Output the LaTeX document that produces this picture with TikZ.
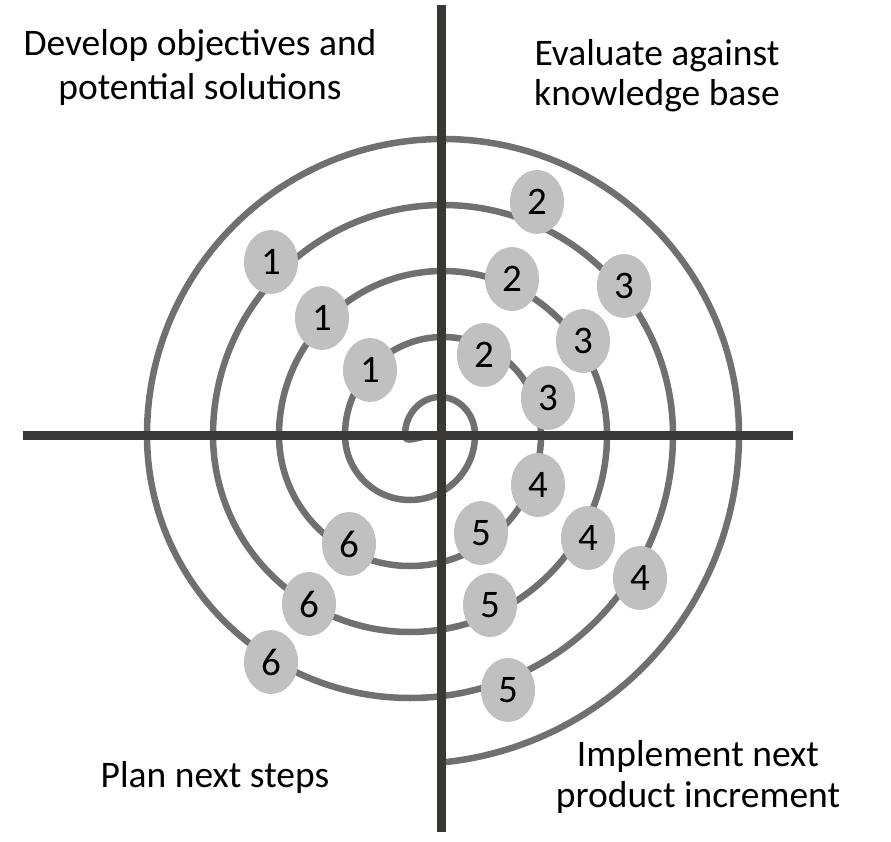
\documentclass[tikz,border=0pt]{standalone}
\usepackage{fontspec}
\setmainfont{Carlito}
\usetikzlibrary{shapes.geometric}
\definecolor{spiralgray}{RGB}{112,112,112}
\definecolor{axisdark}{RGB}{58,56,54}
\definecolor{bubblegray}{RGB}{192,192,192}
\tikzset{
  spiralline/.style={draw=spiralgray, line width=6.5pt},
  axisline/.style={draw=axisdark, line width=9pt},
  bubble/.style={ellipse, fill=bubblegray, draw=none, minimum width=54pt, minimum height=64pt, inner sep=0pt, font=\fontsize{39}{41}\selectfont},
  label/.style={align=center, inner sep=0pt, anchor=base}
}
\begin{document}
\begin{tikzpicture}[x=1pt,y=-1pt]
\useasboundingbox (0,0) rectangle (891,842);
% spiral
\draw[spiralline] (410,435) ++(84:329) arc[start angle=84, end angle=0, radius=329]
  arc[start angle=0, end angle=-180, radius=296]
  arc[start angle=180, end angle=0, radius=263]
  arc[start angle=0, end angle=-180, radius=230]
  arc[start angle=180, end angle=0, radius=197]
  arc[start angle=0, end angle=-180, radius=164]
  arc[start angle=180, end angle=0, radius=131]
  arc[start angle=0, end angle=-180, radius=98]
  arc[start angle=180, end angle=0, radius=65]
  arc[start angle=0, end angle=-180, x radius=35, y radius=38]
  .. controls (405,444) and (416,437) .. (430,436);
% axes
\coordinate (hl) at (23,435);
\coordinate (hr) at (793,435);
\coordinate (vt) at (441,5);
\coordinate (vb) at (441,832);
\draw[axisline] (hl) -- (hr);
\draw[axisline] (vt) -- (vb);
% bubbles
\node[bubble] (o1) at (271,262) {1};
\node[bubble] (o2) at (322,318) {1};
\node[bubble] (o3) at (370,370) {1};
\node[bubble] (t1) at (537,202) {2};
\node[bubble] (t2) at (512,279) {2};
\node[bubble] (t3) at (484,355) {2};
\node[bubble] (h1) at (624,286) {3};
\node[bubble] (h2) at (583,341) {3};
\node[bubble] (h3) at (548,398) {3};
\node[bubble] (f1) at (538,485) {4};
\node[bubble] (f2) at (588,538) {4};
\node[bubble] (f3) at (640,578) {4};
\node[bubble] (v1) at (481,533) {5};
\node[bubble] (v2) at (490,605) {5};
\node[bubble] (v3) at (508,690) {5};
\node[bubble] (s1) at (349,544) {6};
\node[bubble] (s2) at (309,604) {6};
\node[bubble] (s3) at (271,662) {6};
% labels
\node[label, font=\fontsize{37.5}{44}\selectfont] (lq1) at (200,100) {Develop objectives and\\potential solutions};
\node[label, font=\fontsize{37.5}{40}\selectfont] (lq2) at (657,106) {Evaluate against\\knowledge base};
\node[label, font=\fontsize{37.5}{40}\selectfont] (lq3) at (215,787) {Plan next steps};
\node[label, font=\fontsize{37.5}{41}\selectfont] (lq4) at (698,807) {Implement next\\product increment};
\end{tikzpicture}
\end{document}
